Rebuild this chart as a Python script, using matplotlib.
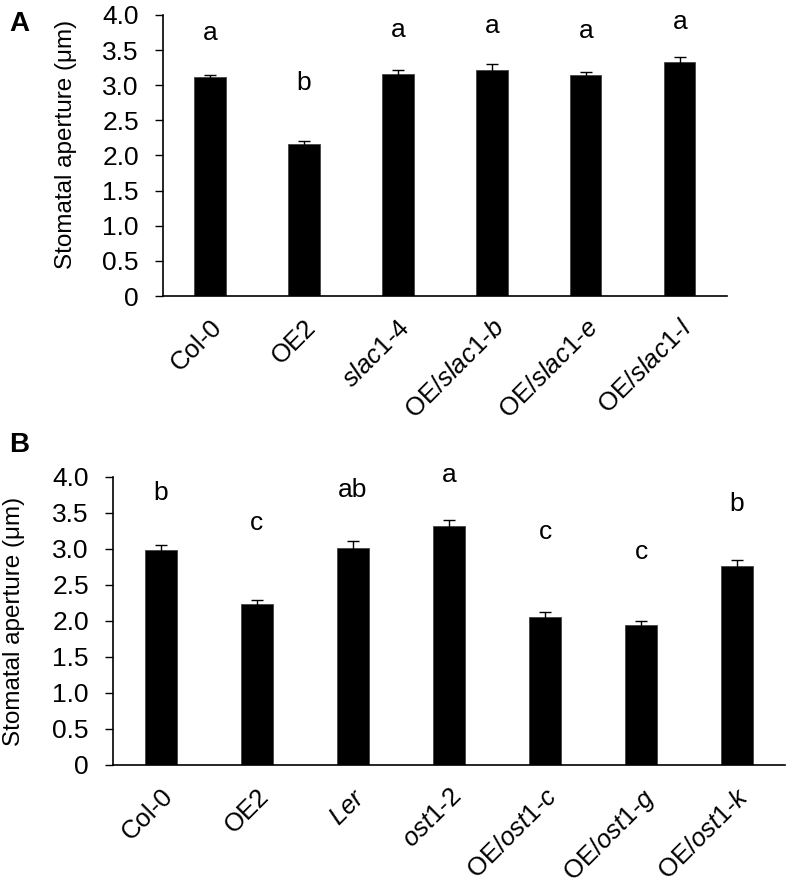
import numpy as np
import matplotlib
matplotlib.use('Agg')
import matplotlib.pyplot as plt

plt.rcParams['font.family'] = ['Liberation Sans', 'DejaVu Sans']
plt.rcParams['mathtext.fontset'] = 'custom'
plt.rcParams['mathtext.rm'] = 'Liberation Sans'
plt.rcParams['mathtext.it'] = 'Liberation Sans:italic'

# panel A data
labels_a = ['Col-0', 'OE2', r'$\it{slac1}$-4', r'OE/$\it{slac1}$-$\it{b}$',
            r'OE/$\it{slac1}$-$\it{e}$', r'OE/$\it{slac1}$-$\it{l}$']
means_a = [3.12, 2.16, 3.16, 3.22, 3.14, 3.33]
errs_a = [0.03, 0.04, 0.06, 0.08, 0.05, 0.065]
letters_a = ['a', 'b', 'a', 'a', 'a', 'a']
letter_y_a = [3.75, 3.03, 3.79, 3.85, 3.77, 3.90]

# panel B data
labels_b = ['Col-0', 'OE2', r'$\it{Ler}$', r'$\it{ost1}$-2', r'OE/$\it{ost1}$-$\it{c}$',
            r'OE/$\it{ost1}$-$\it{g}$', r'OE/$\it{ost1}$-$\it{k}$']
means_b = [2.98, 2.23, 3.02, 3.32, 2.06, 1.94, 2.77]
errs_b = [0.08, 0.06, 0.09, 0.08, 0.06, 0.065, 0.075]
letters_b = ['b', 'c', 'ab', 'a', 'c', 'c', 'b']
letter_y_b = [3.78, 3.36, 3.82, 4.03, 3.24, 2.96, 3.62]

yticks = [0, 0.5, 1.0, 1.5, 2.0, 2.5, 3.0, 3.5, 4.0]
ytick_labels = ['0', '0.5', '1.0', '1.5', '2.0', '2.5', '3.0', '3.5', '4.0']

fig = plt.figure(figsize=(7.89, 8.81), dpi=100)
axA = fig.add_axes([0.2066, 0.664, 0.7148, 0.319])
axB = fig.add_axes([0.1432, 0.1317, 0.8518, 0.3269])


def draw(ax, labels, means, errs, letters, letter_y, ylab_x, ylab_y):
    x = np.arange(len(labels))
    ax.bar(x, means, width=0.33, color='black', edgecolor='#444444', linewidth=0.6)
    ax.errorbar(x, means, yerr=errs, fmt='none', ecolor='black',
                elinewidth=1.0, capsize=4.3, capthick=1.0)
    for xi, lt, ly in zip(x, letters, letter_y):
        ax.text(xi, ly, lt, ha='center', va='center', fontsize=19, clip_on=False)
    ax.set_xlim(-0.5, len(labels) - 0.5)
    ax.set_ylim(0, 4.0)
    ax.set_yticks(yticks)
    ax.set_yticklabels(ytick_labels, fontsize=19)
    ax.set_xticks(x)
    ax.set_xticklabels(labels, fontsize=18.5, rotation=45, ha='right',
                       rotation_mode='anchor')
    ax.tick_params(axis='x', length=0, pad=14)
    ax.tick_params(axis='y', length=5.8, width=1, direction='out', pad=11.5)
    ax.spines['top'].set_visible(False)
    ax.spines['right'].set_visible(False)
    ax.spines['left'].set_linewidth(1.2)
    ax.spines['bottom'].set_linewidth(1.2)
    ax.set_ylabel('Stomatal aperture (μm)', fontsize=17.5)
    ax.yaxis.set_label_coords(ylab_x, ylab_y)


draw(axA, labels_a, means_a, errs_a, letters_a, letter_y_a, -0.152, 0.54)
draw(axB, labels_b, means_b, errs_b, letters_b, letter_y_b, -0.131, 0.5)

fig.text(0.012, 0.973, 'A', fontsize=20, fontweight='bold', va='center')
fig.text(0.012, 0.495, 'B', fontsize=20, fontweight='bold', va='center')

fig.savefig('out.png', dpi=100)
